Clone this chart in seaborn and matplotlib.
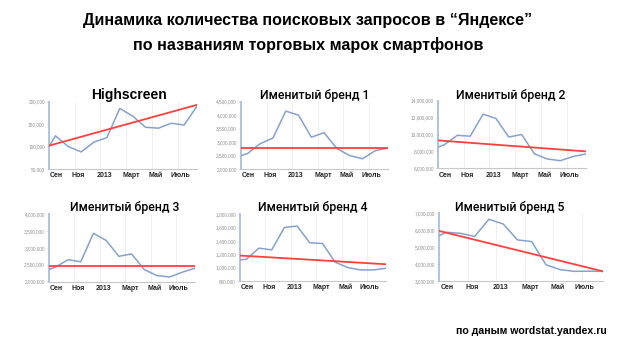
import numpy as np
import pandas as pd
import seaborn as sns
import matplotlib.pyplot as plt
from matplotlib.ticker import FuncFormatter

# monthly points, aug 2012 - aug 2013 (first one is partial)
point_x = [0, 0.5, 1.5, 2.5, 3.5, 4.5, 5.5, 6.5, 7.5, 8.5, 9.5, 10.5, 11.5]
tick_pos = [0.6, 2.3, 4.3, 6.4, 8.3, 10.2]
tick_labels = ['Сен', 'Ноя', '2013', 'Март', 'Май', 'Июль']

titles = ['Highscreen', 'Именитый бренд 1', 'Именитый бренд 2',
          'Именитый бренд 3', 'Именитый бренд 4', 'Именитый бренд 5']

highscreen = [100e3, 124e3, 100e3, 88e3, 110e3, 120e3, 185e3, 168e3, 143e3, 141e3, 152e3, 148e3, 190e3]
brand1 = [2.50e6, 2.57e6, 2.94e6, 3.15e6, 4.15e6, 4.00e6, 3.18e6, 3.35e6, 2.76e6, 2.50e6, 2.38e6, 2.68e6, 2.78e6]
brand2 = [8.5e6, 8.8e6, 9.9e6, 9.8e6, 12.4e6, 11.9e6, 9.7e6, 10.0e6, 7.7e6, 7.1e6, 6.9e6, 7.4e6, 7.7e6]
brand3 = [2.36e6, 2.43e6, 2.65e6, 2.59e6, 3.43e6, 3.22e6, 2.75e6, 2.82e6, 2.36e6, 2.18e6, 2.14e6, 2.28e6, 2.40e6]
brand4 = [1.115e6, 1.125e6, 1.29e6, 1.265e6, 1.60e6, 1.62e6, 1.37e6, 1.36e6, 1.08e6, 1.00e6, 0.965e6, 0.965e6, 0.99e6]
brand5 = [5.67e6, 5.88e6, 5.82e6, 5.63e6, 6.65e6, 6.37e6, 5.43e6, 5.33e6, 3.96e6, 3.67e6, 3.57e6, 3.58e6, 3.57e6]

# red trend lines, value at first and last point
trend_start = [102e3, 2.78e6, 9.3e6, 2.46e6, 1.18e6, 5.96e6]
trend_end = [193e3, 2.78e6, 8.0e6, 2.46e6, 1.05e6, 3.57e6]

y_ticks = [np.arange(50e3, 200e3 + 1, 50e3),
           np.arange(2e6, 4.5e6 + 1, 0.5e6),
           np.arange(6e6, 14e6 + 1, 2e6),
           np.arange(2e6, 4e6 + 1, 0.5e6),
           np.arange(0.8e6, 1.8e6 + 1, 0.2e6),
           np.arange(3e6, 7e6 + 1, 1e6)]

series = [highscreen, brand1, brand2, brand3, brand4, brand5]

# axes boxes in pixels: left, top, right, bottom
W, H = 622, 355
boxes = [(49, 101.7, 197, 169), (241, 101.7, 388, 169), (438, 100.7, 586, 168.3),
         (49, 214, 195, 281.7), (240, 214, 386, 281), (439, 213.3, 603, 281)]
title_xy = [(129, 95), (315, 95), (511, 95), (125, 208), (313, 208), (510, 208)]

sns.set_theme(style='white')
plt.rcParams['font.family'] = ['Liberation Sans', 'DejaVu Sans']

fig = plt.figure(figsize=(W / 100, H / 100), dpi=100)

fig.text(0.495, 1 - 20 / H, 'Динамика количества поисковых запросов в “Яндексе”',
         ha='center', va='center', fontsize=11.6, fontweight='bold', color='black')
fig.text(0.495, 1 - 45 / H, 'по названиям торговых марок смартфонов',
         ha='center', va='center', fontsize=11.6, fontweight='bold', color='black')
fig.text(531 / W, 1 - 331 / H, 'по даным wordstat.yandex.ru',
         ha='center', va='center', fontsize=7.6, fontweight='bold', color='black')

for i in range(6):
    l, t, r, b = boxes[i]
    ax = fig.add_axes([l / W, 1 - b / H, (r - l) / W, (b - t) / H])
    df = pd.DataFrame({'x': point_x, 'y': series[i]})
    for gx in [2, 4, 6, 8, 10]:
        ax.axvline(gx, color='#ececec', lw=0.6, zorder=0)
    sns.lineplot(data=df, x='x', y='y', ax=ax, color='#86a2cc', lw=1.1, zorder=3)
    tr = pd.DataFrame({'x': [point_x[0], point_x[-1]], 'y': [trend_start[i], trend_end[i]]})
    sns.lineplot(data=tr, x='x', y='y', ax=ax, color='#ff4040', lw=1.3, zorder=4)

    ax.set_xlim(point_x[0], point_x[-1])
    ax.set_ylim(y_ticks[i][0], y_ticks[i][-1])
    ax.set_yticks(y_ticks[i])
    ax.yaxis.set_major_formatter(FuncFormatter(lambda v, p: f'{int(round(v)):,}'))
    ax.set_xticks(tick_pos)
    ax.set_xticklabels(tick_labels)
    ax.set_xlabel('')
    ax.set_ylabel('')
    ax.tick_params(axis='y', labelsize=3.4, labelcolor='#909090', length=1.5, width=0.5,
                   color='#a9bfdc', pad=1.5, left=True)
    ax.tick_params(axis='x', labelsize=5, length=0, pad=2.5)
    for lab in ax.get_xticklabels():
        lab.set_fontweight('bold')
    for s in ['top', 'right']:
        ax.spines[s].set_visible(False)
    ax.spines['left'].set_color('#a9bfdc')
    ax.spines['left'].set_linewidth(1.3)
    ax.spines['bottom'].set_color('#c8c8c8')
    ax.spines['bottom'].set_linewidth(0.8)
    ax.patch.set_alpha(0)

    tx, ty = title_xy[i]
    if i == 0:
        fig.text(tx / W, 1 - ty / H, titles[i], ha='center', va='center',
                 fontsize=10, fontweight='bold', color='black')
    else:
        fig.text(tx / W, 1 - ty / H, titles[i], ha='center', va='center',
                 fontsize=8.8, fontweight='medium', color='black',
                 family=['Roboto', 'Liberation Sans', 'DejaVu Sans'])

fig.savefig('out.png', dpi=100, facecolor='white')
